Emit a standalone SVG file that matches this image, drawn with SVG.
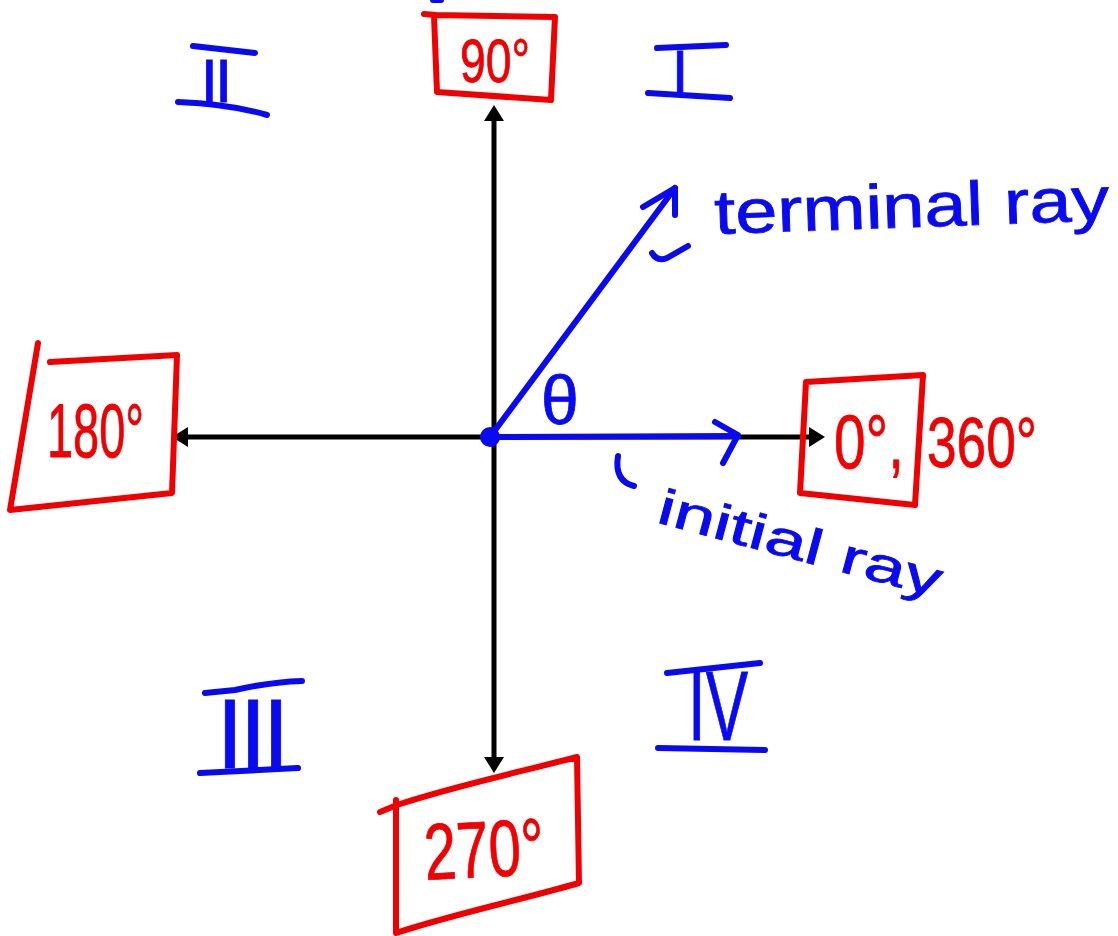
<svg xmlns="http://www.w3.org/2000/svg" width="1118" height="936" viewBox="0 0 1118 936">
<style>
  .bg{fill:#ffffff}
  .axis{stroke:#000;stroke-width:5;fill:none}
  .box{stroke:#f00000;stroke-width:6;fill:none;stroke-linejoin:round;stroke-linecap:round}
  .red{fill:#f00000;stroke:#f00000;stroke-width:0.8;font-family:"Liberation Sans",Arial,sans-serif}
  .blue{fill:#0a0af0;stroke:#0a0af0;stroke-width:0.8;font-family:"Liberation Sans",Arial,sans-serif}
  .bstroke{stroke:#0a0af0;stroke-width:6;fill:none;stroke-linecap:round;stroke-linejoin:round}
  .bar{stroke:#0a0af0;stroke-width:6;fill:none;stroke-linecap:round}
</style>
<defs>
  <marker id="ah" viewBox="0 0 16 20" refX="2" refY="10" markerWidth="16" markerHeight="20" markerUnits="userSpaceOnUse" orient="auto-start-reverse">
    <path d="M0,0 L16,10 L0,20 Z" fill="#000"/>
  </marker>
</defs>
<rect class="bg" x="0" y="0" width="1118" height="936"/>

<g id="connectors">
  <line class="axis" x1="494" y1="119" x2="494" y2="759" marker-start="url(#ah)" marker-end="url(#ah)"/>
  <line class="axis" x1="186" y1="437" x2="811" y2="437" marker-start="url(#ah)" marker-end="url(#ah)"/>
  <g id="initial-ray">
    <line class="bstroke" x1="490" y1="437" x2="738" y2="436"/>
    <path class="bstroke" d="M715,422 L738,435 L723,463"/>
  </g>
  <g id="terminal-ray">
    <line class="bstroke" x1="490" y1="437" x2="675" y2="188"/>
    <path class="bstroke" d="M643,207 L675,188 L675,215"/>
  </g>
  <circle cx="490" cy="437" r="10" fill="#0a0af0"/>
</g>

<g id="node-90">
  <path class="box" d="M424,14 L436,15 L555,17 L551,100 L437,92 L434,16"/>
  <text class="red" x="460" y="82" font-size="62" textLength="70" lengthAdjust="spacingAndGlyphs">90°</text>
</g>

<g id="node-180">
  <path class="box" d="M38,343 L10,510 L172,493 L177,355 L50,362"/>
  <text class="red" x="47" y="457" font-size="76" textLength="97" lengthAdjust="spacingAndGlyphs">180°</text>
</g>

<g id="node-0">
  <path class="box" d="M806,382 L923,375 L915,505 L800,493 Z"/>
  <text class="red" x="834" y="468" font-size="76" textLength="70" lengthAdjust="spacingAndGlyphs">0°,</text>
  <text class="red" x="927" y="467" font-size="70" textLength="110" lengthAdjust="spacingAndGlyphs">360°</text>
</g>

<g id="node-270">
  <path class="box" d="M380,812 L397,805 C450,787 520,772 577,757 L579,883 C520,900 450,915 396,933 L396,800"/>
  <text class="red" x="424" y="877" font-size="80" textLength="120" lengthAdjust="spacingAndGlyphs" transform="rotate(-3 484 850)">270°</text>
</g>

<g id="quadrant-II">
  <line class="bar" x1="193" y1="46" x2="255" y2="53"/>
  <path class="bar" d="M178,102 Q230,104 267,115"/>
  <text class="blue" x="215" y="102" font-size="62" text-anchor="middle" letter-spacing="-3">II</text>
</g>

<g id="quadrant-I">
  <line class="bar" x1="657" y1="48" x2="726" y2="45"/>
  <line class="bar" x1="648" y1="93" x2="730" y2="98"/>
  <text class="blue" x="680" y="92" font-size="60" text-anchor="middle">I</text>
</g>

<g id="quadrant-III">
  <path class="bar" d="M205,693 L235,690 Q270,682 302,681"/>
  <line class="bar" x1="200" y1="773" x2="298" y2="768"/>
  <text class="blue" x="251" y="768" font-size="98" text-anchor="middle" letter-spacing="-4" stroke-width="0">III</text>
</g>

<g id="quadrant-IV">
  <line class="bar" x1="667" y1="673" x2="760" y2="663"/>
  <line class="bar" x1="658" y1="748" x2="765" y2="750"/>
  <text class="blue" x="688" y="740" font-size="98" textLength="60" lengthAdjust="spacingAndGlyphs" stroke-width="0">IV</text>
</g>

<g id="theta">
  <text class="blue" x="560" y="424" font-size="68" text-anchor="middle">θ</text>
</g>

<g id="label-terminal">
  <path class="bstroke" d="M652,253 Q657,262 667,258 L688,246"/>
  <text class="blue" x="715" y="234" font-size="62" textLength="395" lengthAdjust="spacingAndGlyphs" transform="rotate(-2 715 234)">terminal ray</text>
</g>

<g id="label-initial">
  <path class="bstroke" d="M618,456 Q614,481 634,486"/>
  <text class="blue" x="655" y="522" font-size="50" textLength="292" lengthAdjust="spacingAndGlyphs" transform="rotate(15 655 522)">initial ray</text>
</g>

<line class="bar" x1="433" y1="0" x2="441" y2="0"/>
</svg>
